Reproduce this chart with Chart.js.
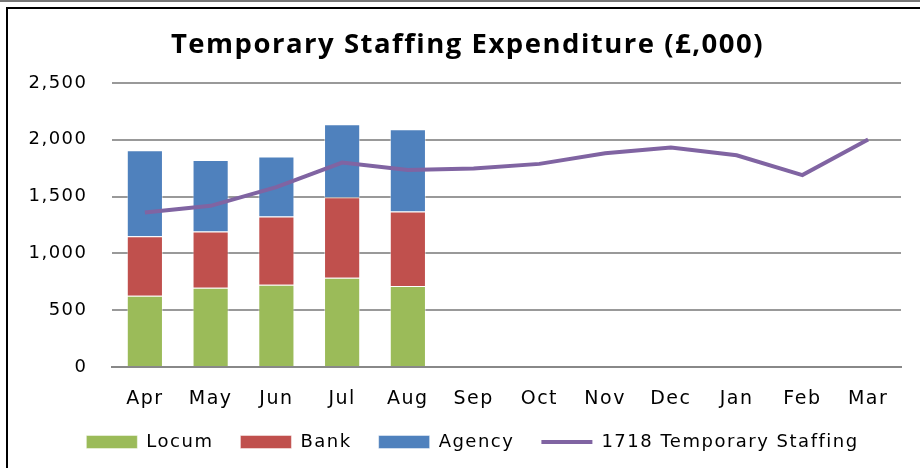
<!DOCTYPE html>
<html>
<head>
<meta charset="utf-8">
<script src="https://cdn.jsdelivr.net/npm/chart.js@4.4.1/dist/chart.umd.min.js"></script>
<style>
  html, body { margin: 0; padding: 0; background: #fff; }
  body { width: 920px; height: 468px; position: relative; overflow: hidden; }
  #topline { position: absolute; left: 0; top: 0; width: 920px; height: 2px; background: #777; }
  #frame { position: absolute; left: 6px; top: 7px; width: 914px; height: 461px;
           border-left: 2px solid #000; border-top: 2px solid #000; box-sizing: border-box; }
  #wrap { position: absolute; left: 8px; top: 9px; width: 912px; height: 459px; }
</style>
</head>
<body>
<div id="topline"></div>
<div id="frame"></div>
<div id="wrap"><canvas id="c"></canvas></div>
<script>
const months = ['Apr','May','Jun','Jul','Aug','Sep','Oct','Nov','Dec','Jan','Feb','Mar'];
const locum  = [627, 697, 724, 785, 712, null, null, null, null, null, null, null];
const bank   = [525, 496, 601, 710, 657, null, null, null, null, null, null, null];
const agency = [756, 630, 527, 642, 724, null, null, null, null, null, null, null];
const staffing1718 = [1360, 1419, 1583, 1800, 1735, 1747, 1788, 1882, 1932, 1864, 1689, 2002];
const yTicks = [0, 500, 1000, 1500, 2000, 2500];

const spacing = {
  id: 'spacing',
  beforeInit(chart) { chart.ctx.letterSpacing = '1.5px'; },
  beforeUpdate(chart) { chart.ctx.letterSpacing = '1.5px'; },
  beforeDraw(chart) { chart.ctx.letterSpacing = '1.5px'; }
};

function shiftBox(box, dx, dy) {
  if (!box || box.__shifted) return;
  const orig = box.draw;
  box.draw = function (...args) {
    const c = this.ctx;
    c.save(); c.translate(dx, dy); orig.apply(this, args); c.restore();
  };
  box.__shifted = true;
}
const shiftPlugin = {
  id: 'shiftBoxes',
  afterLayout(chart) { shiftBox(chart.titleBlock, 13, 0); shiftBox(chart.legend, 18, -5); }
};

const barCommon = { stack: 's', borderColor: 'rgba(255,255,255,0.45)', borderWidth: 1,
  barPercentage: 0.55, categoryPercentage: 1.0, pointStyle: 'rect', order: 2 };

new Chart(document.getElementById('c'), {
  type: 'bar',
  data: {
    labels: months,
    datasets: [
      Object.assign({ label: 'Locum', data: locum, backgroundColor: '#9bbb59' }, barCommon),
      Object.assign({ label: 'Bank', data: bank, backgroundColor: '#c0504d' }, barCommon),
      Object.assign({ label: 'Agency', data: agency, backgroundColor: '#4f81bd' }, barCommon),
      { type: 'line', label: '1718 Temporary Staffing', data: staffing1718,
        borderColor: '#8064a2', backgroundColor: '#8064a2', borderWidth: 4,
        pointRadius: 0, pointStyle: 'line', tension: 0, order: 1 }
    ]
  },
  plugins: [spacing, shiftPlugin],
  options: {
    responsive: true,
    maintainAspectRatio: false,
    animation: false,
    layout: { padding: { left: 0, right: 19, top: 12, bottom: 2 } },
    plugins: {
      title: {
        display: true,
        text: 'Temporary Staffing Expenditure (£,000)',
        color: '#000',
        font: { family: 'Open Sans', size: 27.5, weight: 'bold' },
        padding: { top: 8, bottom: 21 }
      },
      legend: {
        position: 'bottom',
        labels: {
          usePointStyle: true,
          pointStyleWidth: 51,
          boxWidth: 51,
          boxHeight: 13,
          padding: 27,
          color: '#000',
          font: { family: 'DejaVu Sans', size: 18 },
          sort: (a, b) => a.datasetIndex - b.datasetIndex
        }
      },
      tooltip: { enabled: false }
    },
    scales: {
      x: {
        stacked: true,
        grid: { display: false, drawTicks: false },
        border: { display: true, color: '#888', width: 2 },
        ticks: { color: '#000', font: { family: 'DejaVu Sans', size: 19 }, padding: 21, maxRotation: 0, autoSkip: false },
        afterFit(axis) { axis.height = 44; }
      },
      y: {
        stacked: true,
        min: 0, max: 2500,
        afterBuildTicks(axis) { axis.ticks = yTicks.map(v => ({ value: v })); },
        afterFit(axis) { axis.width = 104; },
        grid: { color: '#999', lineWidth: 2, drawTicks: false },
        border: { display: false },
        ticks: { color: '#000', font: { family: 'DejaVu Sans', size: 18 }, padding: 24.5,
                 callback: v => v.toLocaleString('en-GB') }
      }
    }
  }
});
</script>
</body>
</html>
